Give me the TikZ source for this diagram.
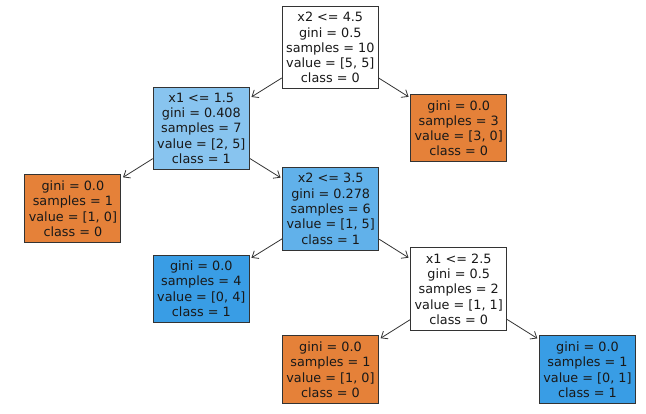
\documentclass[tikz,border=0pt]{standalone}
\usepackage{fontspec}
\setmainfont{DejaVu Sans}
\usetikzlibrary{arrows.meta}
\definecolor{orng}{HTML}{E58139}
\definecolor{blu}{HTML}{399DE5}
\definecolor{blu60}{HTML}{88C4EF}
\definecolor{blu80}{HTML}{61B1EA}
\definecolor{edge}{HTML}{333333}
\tikzset{
  treebox/.style={draw=edge, line width=0.9pt, rectangle, align=center,
    minimum width=96pt, inner xsep=2pt, inner ysep=0pt,
    font=\fontsize{12.8pt}{15.3pt}\selectfont, text=black!90},
  split/.style={treebox, minimum height=82.5pt},
  leaf/.style={treebox, minimum height=67.5pt},
  conn/.style={draw=edge, line width=0.8pt, -{Straight Barb[length=5.5pt,width=9pt]}, shorten >=2pt}
}
\begin{document}
\begin{tikzpicture}[x=1pt,y=-1pt]
\useasboundingbox (0,0) rectangle (646,414);
\node[split, fill=white] (root) at (330.3,47.7) {x2 <= 4.5\\gini = 0.5\\samples = 10\\value = [5, 5]\\class = 0};
\node[split, fill=blu60] (n1) at (201.3,128.3) {x1 <= 1.5\\gini = 0.408\\samples = 7\\value = [2, 5]\\class = 1};
\node[leaf, fill=orng] (r1) at (458.7,128.2) {gini = 0.0\\samples = 3\\value = [3, 0]\\class = 0};
\node[leaf, fill=orng] (l1) at (72.9,208.7) {gini = 0.0\\samples = 1\\value = [1, 0]\\class = 0};
\node[split, fill=blu80] (n2) at (330.7,208.8) {x2 <= 3.5\\gini = 0.278\\samples = 6\\value = [1, 5]\\class = 1};
\node[leaf, fill=blu] (l2) at (201.3,288.8) {gini = 0.0\\samples = 4\\value = [0, 4]\\class = 1};
\node[split, fill=white] (n3) at (458.7,289.2) {x1 <= 2.5\\gini = 0.5\\samples = 2\\value = [1, 1]\\class = 0};
\node[leaf, fill=orng] (l3) at (330.5,369.7) {gini = 0.0\\samples = 1\\value = [1, 0]\\class = 0};
\node[leaf, fill=blu] (r3) at (587.5,369.7) {gini = 0.0\\samples = 1\\value = [0, 1]\\class = 1};
\draw[conn] (root) -- (n1);
\draw[conn] (root) -- (r1);
\draw[conn] (n1) -- (l1);
\draw[conn] (n1) -- (n2);
\draw[conn] (n2) -- (l2);
\draw[conn] (n2) -- (n3);
\draw[conn] (n3) -- (l3);
\draw[conn] (n3) -- (r3);
\end{tikzpicture}
\end{document}
